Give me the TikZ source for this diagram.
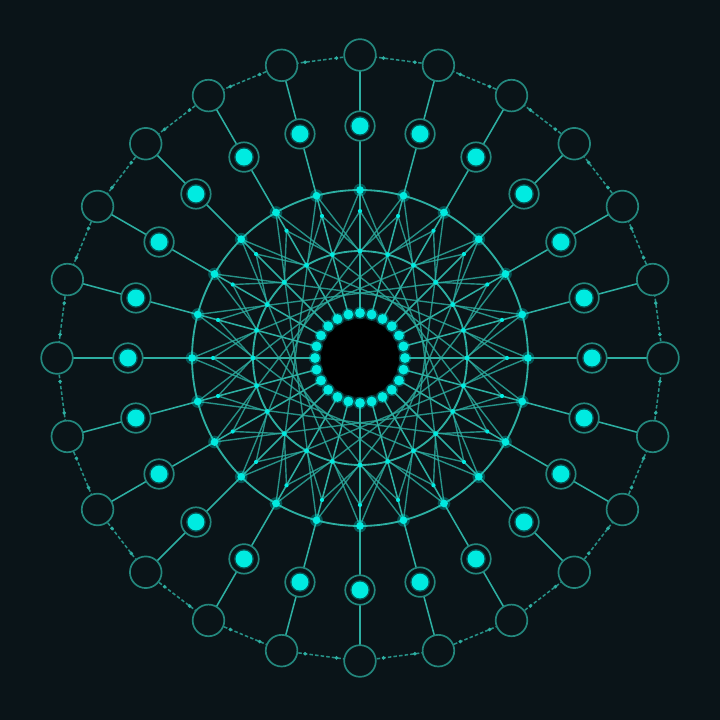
\documentclass[tikz,border=0pt]{standalone}
\usetikzlibrary{calc}
\definecolor{bgdark}{RGB}{10,20,24}
\definecolor{wire}{RGB}{45,175,162}
\definecolor{wiredim}{RGB}{35,135,125}
\definecolor{glowcyan}{RGB}{0,235,225}
\tikzset{
  dot/.style={circle,fill=glowcyan,inner sep=0pt,minimum size=#1},
  halo/.style={circle,fill=glowcyan,opacity=0.3,inner sep=0pt,minimum size=#1},
  hubring/.style={circle,draw=wiredim,line width=1.2pt,fill=bgdark,inner sep=0pt,minimum size=21pt},
  outring/.style={circle,draw=wiredim,line width=1.2pt,fill=bgdark,inner sep=0pt,minimum size=22.5pt},
  spoke/.style={draw=wire,line width=1.1pt},
  mesh/.style={draw=wire,line width=1pt,opacity=0.8},
  rim/.style={draw=wire,line width=1.1pt,opacity=0.8,dash pattern=on 2.5pt off 1.5pt}
}
\begin{document}
\begin{tikzpicture}[x=0.025cm,y=0.025cm]
	\fill[bgdark] (-360,-362) rectangle (360,358);
	\useasboundingbox (-360,-362) rectangle (360,358);
	
	%coordinates of all nodes
	\foreach \i in {0,...,23}{
		\coordinate (in\i) at (15*\i:45);
		\coordinate (cr\i) at (15*\i:107);
		\coordinate (sp\i) at (15*\i:147);
		\coordinate (mid\i) at (15*\i:168);
		\coordinate (hub\i) at (15*\i:232);
		\coordinate (out\i) at (15*\i:303);
	}
	
	%rings
	\draw[wire,line width=1.3pt] (0,0) circle (107);
	\draw[wire,line width=1.3pt] (0,0) circle (168);
	
	%star mesh: chords of the middle ring, short links from the spoke dots
	\foreach \i in {0,...,23}{
		\pgfmathtruncatemacro{\a}{mod(\i+9,24)}
		\pgfmathtruncatemacro{\l}{mod(\i+23,24)}
		\pgfmathtruncatemacro{\r}{mod(\i+1,24)}
		\draw[mesh] (mid\i) -- (mid\a);
		\draw[mesh] (cr\l) -- (sp\i) -- (cr\r);
	}
	
	%spokes and outer rim
	\foreach \i in {0,...,23}{
		\pgfmathtruncatemacro{\n}{mod(\i+1,24)}
		\draw[spoke] (in\i) -- (mid\i) -- (hub\i) -- (out\i);
		\draw[rim] (out\i) -- (out\n);
		\node at ($(out\i)!0.3!(out\n)$) [dot=2.8pt,fill=wire]{};
		\node at ($(out\i)!0.7!(out\n)$) [dot=2.8pt,fill=wire]{};
	}
	
	%black core
	\fill[black] (0,0) circle (39);
	
	%nodes
	\foreach \i in {0,...,23}{
		\node at (in\i) [halo=9pt]{};
		\node at (in\i) [dot=7pt]{};
		\node at (cr\i) [dot=3.5pt]{};
		\node at (sp\i) [dot=3pt]{};
		\node at (mid\i) [halo=9pt]{};
		\node at (mid\i) [dot=5.5pt]{};
		\node (hubr\i) at (hub\i) [hubring]{};
		\node at (hub\i) [halo=14pt]{};
		\node at (hub\i) [dot=12pt]{};
		\node (outr\i) at (out\i) [outring]{};
	}
\end{tikzpicture}
\end{document}
